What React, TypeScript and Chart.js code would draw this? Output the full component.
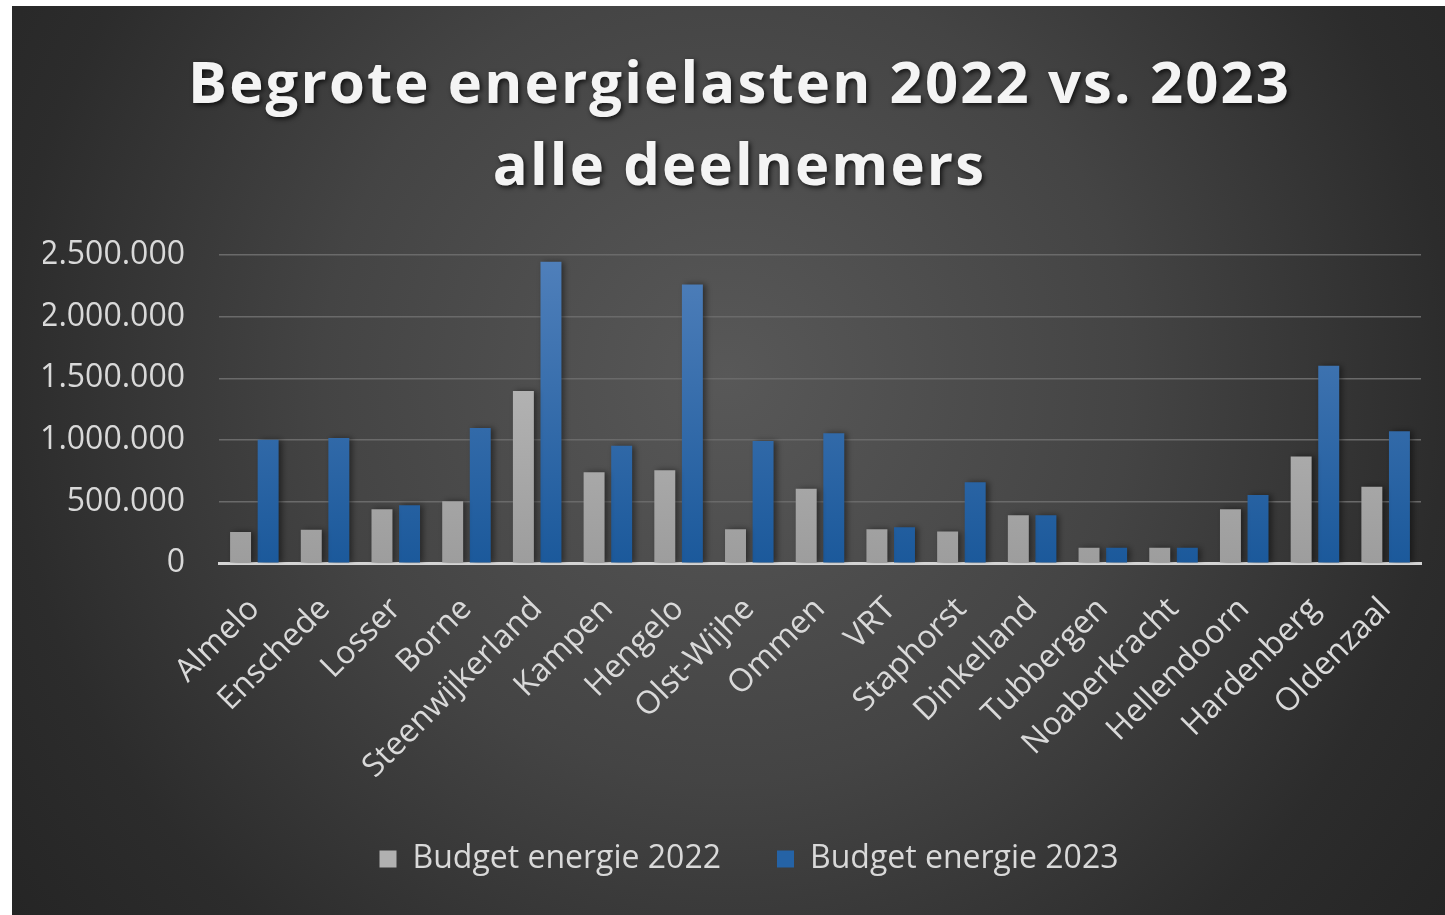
import React, { useEffect, useRef } from "react";
import { Chart, registerables } from "chart.js";

Chart.register(...registerables);

const categories = [
  "Almelo", "Enschede", "Losser", "Borne", "Steenwijkerland", "Kampen", "Hengelo",
  "Olst-Wijhe", "Ommen", "VRT", "Staphorst", "Dinkelland", "Tubbergen",
  "Noaberkracht", "Hellendoorn", "Hardenberg", "Oldenzaal",
];
const budget2022 = [
  253000, 272000, 439000, 504000, 1397000, 738000, 754000, 276000, 605000,
  276000, 257000, 390000, 125000, 125000, 439000, 866000, 621000,
];
const budget2023 = [
  1002000, 1016000, 471000, 1097000, 2445000, 953000, 2261000, 991000, 1054000,
  292000, 657000, 390000, 125000, 125000, 553000, 1601000, 1070000,
];
const seriesNames = ["Budget energie 2022", "Budget energie 2023"];
const titleLines = ["Begrote energielasten 2022 vs. 2023", "alle deelnemers"];
const yMax = 2500000;
const yStep = 500000;

const FONT = "'Open Sans', 'DejaVu Sans', sans-serif";
const TEXT = "#d9d9d9";

const bgPlugin = {
  id: "bgPlugin",
  beforeDraw(chart: any) {
    const { ctx, width, height } = chart;
    ctx.save();
    const cx = width * 0.5;
    const cy = 370;
    const g = ctx.createRadialGradient(cx, cy, 0, cx, cy, 900);
    g.addColorStop(0, "#585858");
    g.addColorStop(0.45, "#444444");
    g.addColorStop(0.8, "#2c2c2c");
    g.addColorStop(1, "#252525");
    ctx.fillStyle = g;
    ctx.fillRect(0, 0, width, height);
    ctx.restore();
  },
};

const titlePlugin = {
  id: "titlePlugin",
  afterDraw(chart: any) {
    const { ctx } = chart;
    ctx.save();
    ctx.font = `bold 58px ${FONT}`;
    ctx.fillStyle = "#f4f4f4";
    ctx.textBaseline = "alphabetic";
    ctx.textAlign = "left";
    const centerX = 726.5;
    const baselines = [97, 179];
    const targetW = 1103;
    let ls = 0;
    if ("letterSpacing" in ctx) {
      ctx.letterSpacing = "0px";
      const w0 = ctx.measureText(titleLines[0]).width;
      ls = (targetW - w0) / titleLines[0].length;
      ctx.letterSpacing = `${ls}px`;
    }
    ctx.shadowColor = "rgba(0,0,0,0.75)";
    ctx.shadowBlur = 5;
    ctx.shadowOffsetX = 2;
    ctx.shadowOffsetY = 2;
    titleLines.forEach((line, i) => {
      const w = ctx.measureText(line).width - ls;
      ctx.fillText(line, centerX - w / 2, baselines[i]);
    });
    ctx.restore();
  },
};

const shadowPlugin = {
  id: "barShadow",
  beforeDatasetsDraw(chart: any) {
    const { ctx } = chart;
    ctx.save();
    ctx.shadowColor = "rgba(0,0,0,0.45)";
    ctx.shadowBlur = 6;
    ctx.shadowOffsetX = 3;
    ctx.shadowOffsetY = 0;
  },
  afterDatasetsDraw(chart: any) {
    chart.ctx.restore();
  },
};

const legendShiftPlugin = {
  id: "legendShift",
  afterLayout(chart: any) {
    if (chart.legend) {
      chart.legend.left += 17;
      chart.legend.right += 17;
    }
  },
};

function gradientFill(top: string, bottom: string, fallback: string) {
  return (c: any) => {
    const chart = c.chart;
    const area = chart.chartArea;
    if (!area) return fallback;
    const g = chart.ctx.createLinearGradient(0, area.top, 0, area.bottom);
    g.addColorStop(0, top);
    g.addColorStop(1, bottom);
    return g;
  };
}

const legendColors = ["#b0b0b0", "#2563a6"];

export default function App() {
  const ref = useRef<HTMLCanvasElement | null>(null);
  useEffect(() => {
    document.body.style.margin = "0";
    const canvas = ref.current!;
    const chart = new Chart(canvas, {
      type: "bar",
      data: {
        labels: categories,
        datasets: [
          {
            label: seriesNames[0],
            data: budget2022,
            backgroundColor: gradientFill("#c2c2c2", "#9d9d9d", "#b0b0b0"),
            borderWidth: 0,
            barPercentage: 0.76,
            categoryPercentage: 0.78,
          },
          {
            label: seriesNames[1],
            data: budget2023,
            backgroundColor: gradientFill("#5080bb", "#1b599b", "#2563a6"),
            borderWidth: 0,
            barPercentage: 0.76,
            categoryPercentage: 0.78,
          },
        ],
      },
      options: {
        responsive: false,
        animation: false,
        layout: { padding: { top: 249, left: 31, right: 24, bottom: 30 } },
        font: { family: FONT },
        scales: {
          x: {
            grid: { display: false, drawTicks: false },
            border: { display: true, color: "#d4d4d4", width: 3 },
            ticks: {
              color: TEXT,
              font: { family: FONT, size: 32 },
              minRotation: 45,
              maxRotation: 45,
              padding: 27,
              autoSkip: false,
            },
            afterFit: (scale: any) => {
              scale.paddingLeft = 0;
              scale.height = scale.height - 26;
            },
          },
          y: {
            min: 0,
            max: yMax,
            grid: { color: "#6a6a6a", lineWidth: 1.5, drawTicks: false },
            border: { display: false },
            ticks: {
              stepSize: yStep,
              color: TEXT,
              font: { family: FONT, size: 32 },
              padding: 34,
              callback: (v: any) => Number(v).toLocaleString("nl-NL"),
            },
            afterFit: (scale: any) => {
              scale.width = 176;
            },
          },
        },
        plugins: {
          title: { display: false },
          tooltip: { enabled: false },
          legend: {
            position: "bottom",
            labels: {
              color: TEXT,
              font: { family: FONT, size: 32 },
              boxWidth: 17,
              boxHeight: 17,
              padding: 56,
              generateLabels: (ch: any) =>
                (Chart.defaults.plugins.legend.labels as any)
                  .generateLabels(ch)
                  .map((l: any, i: number) => ({
                    ...l,
                    fillStyle: legendColors[i],
                    strokeStyle: "rgba(0,0,0,0)",
                    lineWidth: 0,
                  })),
            },
          },
        },
      },
      plugins: [bgPlugin, shadowPlugin, legendShiftPlugin, titlePlugin],
    } as any);
    return () => chart.destroy();
  }, []);
  return (
    <div style={{ background: "#ffffff", paddingLeft: 12, paddingTop: 6, width: 1433, height: 909 }}>
      <canvas ref={ref} width={1433} height={909} style={{ display: "block", width: 1433, height: 909 }} />
    </div>
  );
}
